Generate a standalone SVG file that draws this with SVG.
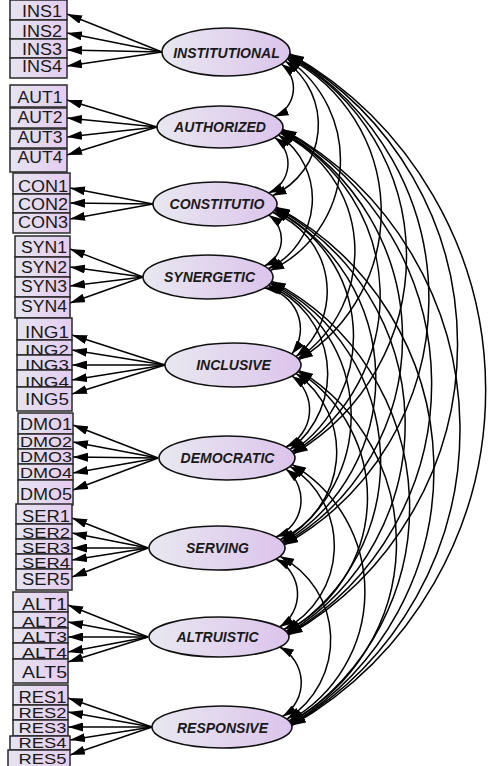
<svg xmlns="http://www.w3.org/2000/svg" width="490" height="766" viewBox="0 0 490 766">
<defs>
<linearGradient id="eg" x1="0" y1="0" x2="1" y2="0">
<stop offset="0" stop-color="#e8e8f0"/><stop offset="1" stop-color="#dcc4ec"/>
</linearGradient>
<linearGradient id="bg" x1="0" y1="0" x2="1" y2="0">
<stop offset="0" stop-color="#e6e4f0"/><stop offset="1" stop-color="#e4ccf0"/>
</linearGradient>
<marker id="ai" viewBox="0 0 15 9" refX="15" refY="4.5" markerWidth="15" markerHeight="9" markerUnits="userSpaceOnUse" orient="auto-start-reverse"><path d="M0,0 L15,4.5 L0,9 z" fill="#000"/></marker>
<marker id="ac" viewBox="0 0 14 9" refX="14" refY="4.5" markerWidth="14" markerHeight="9" markerUnits="userSpaceOnUse" orient="auto-start-reverse"><path d="M0,0 L14,4.5 L0,9 z" fill="#000"/></marker>
<style>
.lat ellipse{fill:url(#eg);stroke:#111;stroke-width:1.6}
.lat text{font-family:"Liberation Sans",Arial,sans-serif;font-size:14px;font-weight:bold;font-style:italic;fill:#1a1a1a;text-anchor:middle}
.obs rect{fill:url(#bg);stroke:#2a2a2a;stroke-width:1.5}
.obs text{font-family:"Liberation Sans",Arial,sans-serif;font-size:16px;fill:#1a1a1a;text-anchor:middle}
.obs text.t{font-size:14.5px}
.ind line{stroke:#000;stroke-width:1.4;marker-end:url(#ai)}
.cov path{fill:none;stroke:#000;stroke-width:1.5;marker-start:url(#ac);marker-end:url(#ac)}
</style>
</defs>
<g id="connectors">
<g class="ind">
<line x1="162" y1="52" x2="67" y2="14"/><line x1="162" y1="52" x2="67" y2="33"/><line x1="162" y1="52" x2="67" y2="50"/><line x1="162" y1="52" x2="67" y2="66"/>
<line x1="157" y1="127" x2="67" y2="100"/><line x1="157" y1="127" x2="67" y2="118"/><line x1="157" y1="127" x2="67" y2="137"/><line x1="157" y1="127" x2="67" y2="155"/>
<line x1="153" y1="204" x2="70" y2="188"/><line x1="153" y1="204" x2="70" y2="203"/><line x1="153" y1="204" x2="70" y2="219"/>
<line x1="143" y1="277" x2="70" y2="249"/><line x1="143" y1="277" x2="70" y2="267"/><line x1="143" y1="277" x2="70" y2="286"/><line x1="143" y1="277" x2="70" y2="303"/>
<line x1="165" y1="365" x2="72" y2="335"/><line x1="165" y1="365" x2="72" y2="350"/><line x1="165" y1="365" x2="72" y2="365"/><line x1="165" y1="365" x2="72" y2="380"/><line x1="165" y1="365" x2="72" y2="394"/>
<line x1="158" y1="458" x2="73" y2="425"/><line x1="158" y1="458" x2="73" y2="442"/><line x1="158" y1="458" x2="73" y2="457"/><line x1="158" y1="458" x2="73" y2="473"/><line x1="158" y1="458" x2="73" y2="490"/>
<line x1="148" y1="548" x2="72" y2="518"/><line x1="148" y1="548" x2="72" y2="533"/><line x1="148" y1="548" x2="72" y2="548"/><line x1="148" y1="548" x2="72" y2="560"/><line x1="148" y1="548" x2="72" y2="577"/>
<line x1="148" y1="637" x2="68" y2="605"/><line x1="148" y1="637" x2="68" y2="622"/><line x1="148" y1="637" x2="68" y2="637"/><line x1="148" y1="637" x2="68" y2="652"/><line x1="148" y1="637" x2="68" y2="662"/>
<line x1="152" y1="727" x2="68" y2="698"/><line x1="152" y1="727" x2="68" y2="712"/><line x1="152" y1="727" x2="68" y2="727"/><line x1="152" y1="727" x2="70" y2="740"/><line x1="152" y1="727" x2="70" y2="755"/>
</g>
<g class="cov">
<path d="M281.4,64 A30.5,30.5 0 0 1 274.6,116.5"/>
<path d="M285.3,61 A77.9,77.9 0 0 1 272.5,195.7"/>
<path d="M287.2,59 A122.3,122.3 0 0 1 270.2,270.6"/>
<path d="M288.1,57.8 A174,174 0 0 1 299,359.7"/>
<path d="M288.8,56.6 A228.8,228.8 0 0 1 293.8,453.8"/>
<path d="M289.4,55.3 A282,282 0 0 1 284.3,544.9"/>
<path d="M289.7,54.5 A334.3,334.3 0 0 1 288.7,634.9"/>
<path d="M289.9,53.7 A387,387 0 0 1 291.8,725.5"/>
<path d="M274.6,137.5 A32.1,32.1 0 0 1 268.7,193"/>
<path d="M278.4,134.9 A77.3,77.3 0 0 1 268.3,268.7"/>
<path d="M280.2,133.1 A130.3,130.3 0 0 1 298,358.6"/>
<path d="M281.1,132.1 A184.8,184.8 0 0 1 293,452.7"/>
<path d="M281.9,131 A237.8,237.8 0 0 1 283.8,543.8"/>
<path d="M282.4,129.9 A290.5,290.5 0 0 1 288.3,634.2"/>
<path d="M282.7,129.2 A343.1,343.1 0 0 1 291.7,724.8"/>
<path d="M268.7,215 A29.5,29.5 0 0 1 264.3,266"/>
<path d="M272.5,212.3 A84.3,84.3 0 0 1 296,356.7"/>
<path d="M274.3,210.4 A139.3,139.3 0 0 1 292,451.6"/>
<path d="M275.1,209.3 A192.1,192.1 0 0 1 283,542.7"/>
<path d="M275.9,208.2 A244.9,244.9 0 0 1 287.7,633.2"/>
<path d="M276.4,207.1 A297.9,297.9 0 0 1 291.3,724.1"/>
<path d="M264.3,288 A41.2,41.2 0 0 1 291.9,354"/>
<path d="M268.3,285.3 A95.5,95.5 0 0 1 290,449.7"/>
<path d="M270.2,283.4 A148.9,148.9 0 0 1 282,541.6"/>
<path d="M271.1,282.3 A201.8,201.8 0 0 1 286.9,632.2"/>
<path d="M271.8,281.2 A254.7,254.7 0 0 1 290.7,723"/>
<path d="M291.9,376 A41.1,41.1 0 0 1 285.9,447"/>
<path d="M296,373.3 A96.3,96.3 0 0 1 280,539.7"/>
<path d="M298,371.4 A149.8,149.8 0 0 1 285.9,631.2"/>
<path d="M299,370.3 A202.6,202.6 0 0 1 289.9,721.9"/>
<path d="M285.9,469 A39.6,39.6 0 0 1 275.9,537"/>
<path d="M290,466.3 A94.1,94.1 0 0 1 283.9,629.5"/>
<path d="M292,464.4 A147.7,147.7 0 0 1 288.9,720.9"/>
<path d="M275.9,559 A39.2,39.2 0 0 1 279.6,627"/>
<path d="M280,556.3 A93.9,93.9 0 0 1 286.9,719.1"/>
<path d="M279.6,647 A40.1,40.1 0 0 1 282.6,716.5"/>
</g>
</g>
<g id="latents" class="lat">
<g id="INSTITUTIONAL"><ellipse cx="226" cy="52" rx="64" ry="24"/><text x="226.5" y="58">INSTITUTIONAL</text></g>
<g id="AUTHORIZED"><ellipse cx="220" cy="127" rx="63" ry="21"/><text x="220" y="132">AUTHORIZED</text></g>
<g id="CONSTITUTIO"><ellipse cx="215" cy="204" rx="62" ry="22"/><text x="217" y="209">CONSTITUTIO</text></g>
<g id="SYNERGETIC"><ellipse cx="208" cy="277" rx="65" ry="22"/><text x="209.5" y="282">SYNERGETIC</text></g>
<g id="INCLUSIVE"><ellipse cx="233" cy="365" rx="68" ry="22"/><text x="233.5" y="370">INCLUSIVE</text></g>
<g id="DEMOCRATIC"><ellipse cx="227" cy="458" rx="68" ry="22"/><text x="227.5" y="463">DEMOCRATIC</text></g>
<g id="SERVING"><ellipse cx="217" cy="548" rx="68" ry="22"/><text x="217.5" y="553">SERVING</text></g>
<g id="ALTRUISTIC"><ellipse cx="219" cy="637" rx="70" ry="20"/><text x="217.5" y="642">ALTRUISTIC</text></g>
<g id="RESPONSIVE"><ellipse cx="222" cy="727" rx="70" ry="21"/><text x="222.5" y="733">RESPONSIVE</text></g>
</g>
<g id="indicators" class="obs">
<g id="INS1"><rect x="10" y="0" width="57" height="20"/><text x="42" y="17" textLength="40" lengthAdjust="spacingAndGlyphs">INS1</text></g>
<g id="INS2"><rect x="10" y="20" width="57" height="19"/><text x="42" y="37" textLength="40" lengthAdjust="spacingAndGlyphs">INS2</text></g>
<g id="INS3"><rect x="10" y="39" width="57" height="19"/><text x="42" y="55" textLength="40" lengthAdjust="spacingAndGlyphs">INS3</text></g>
<g id="INS4"><rect x="10" y="58" width="57" height="20"/><text x="42" y="72" textLength="40" lengthAdjust="spacingAndGlyphs">INS4</text></g>
<g id="AUT1"><rect x="10" y="85" width="57" height="22"/><text x="40" y="103" textLength="45" lengthAdjust="spacingAndGlyphs">AUT1</text></g>
<g id="AUT2"><rect x="10" y="108" width="57" height="20"/><text x="40" y="123" textLength="45" lengthAdjust="spacingAndGlyphs">AUT2</text></g>
<g id="AUT3"><rect x="10" y="129" width="57" height="19"/><text x="40" y="143" textLength="45" lengthAdjust="spacingAndGlyphs">AUT3</text></g>
<g id="AUT4"><rect x="10" y="149" width="57" height="23"/><text x="40" y="163" textLength="45" lengthAdjust="spacingAndGlyphs">AUT4</text></g>
<g id="CON1"><rect x="13" y="173" width="57" height="21"/><text x="43" y="192" textLength="50" lengthAdjust="spacingAndGlyphs">CON1</text></g>
<g id="CON2"><rect x="13" y="194" width="57" height="19"/><text x="43" y="210" textLength="50" lengthAdjust="spacingAndGlyphs">CON2</text></g>
<g id="CON3"><rect x="13" y="213" width="57" height="20"/><text x="43" y="228" textLength="50" lengthAdjust="spacingAndGlyphs">CON3</text></g>
<g id="SYN1"><rect x="15" y="236" width="55" height="21"/><text x="44" y="253" textLength="46" lengthAdjust="spacingAndGlyphs">SYN1</text></g>
<g id="SYN2"><rect x="15" y="257" width="55" height="20"/><text x="44" y="273" textLength="46" lengthAdjust="spacingAndGlyphs">SYN2</text></g>
<g id="SYN3"><rect x="15" y="277" width="55" height="20"/><text x="44" y="292" textLength="46" lengthAdjust="spacingAndGlyphs">SYN3</text></g>
<g id="SYN4"><rect x="15" y="297" width="55" height="21"/><text x="44" y="312" textLength="46" lengthAdjust="spacingAndGlyphs">SYN4</text></g>
<g id="ING1"><rect x="17" y="318" width="55" height="22"/><text x="47" y="338" textLength="44" lengthAdjust="spacingAndGlyphs">ING1</text></g>
<g id="ING2"><rect x="17" y="340" width="55" height="15"/><text class="t" x="47" y="355" textLength="44" lengthAdjust="spacingAndGlyphs">ING2</text></g>
<g id="ING3"><rect x="17" y="355" width="55" height="15"/><text class="t" x="47" y="370" textLength="44" lengthAdjust="spacingAndGlyphs">ING3</text></g>
<g id="ING4"><rect x="17" y="370" width="55" height="17"/><text class="t" x="47" y="387" textLength="44" lengthAdjust="spacingAndGlyphs">ING4</text></g>
<g id="ING5"><rect x="17" y="387" width="55" height="24"/><text x="47" y="405" textLength="44" lengthAdjust="spacingAndGlyphs">ING5</text></g>
<g id="DMO1"><rect x="18" y="413" width="55" height="21"/><text x="46" y="430" textLength="52" lengthAdjust="spacingAndGlyphs">DMO1</text></g>
<g id="DMO2"><rect x="18" y="434" width="55" height="15"/><text class="t" x="46" y="447" textLength="52" lengthAdjust="spacingAndGlyphs">DMO2</text></g>
<g id="DMO3"><rect x="18" y="449" width="55" height="15"/><text class="t" x="46" y="462" textLength="52" lengthAdjust="spacingAndGlyphs">DMO3</text></g>
<g id="DMO4"><rect x="18" y="464" width="55" height="16"/><text class="t" x="46" y="478" textLength="52" lengthAdjust="spacingAndGlyphs">DMO4</text></g>
<g id="DMO5"><rect x="18" y="480" width="55" height="25"/><text x="46" y="500" textLength="52" lengthAdjust="spacingAndGlyphs">DMO5</text></g>
<g id="SER1"><rect x="16" y="504" width="56" height="20"/><text x="46" y="522" textLength="48" lengthAdjust="spacingAndGlyphs">SER1</text></g>
<g id="SER2"><rect x="16" y="524" width="56" height="15"/><text class="t" x="46" y="538" textLength="48" lengthAdjust="spacingAndGlyphs">SER2</text></g>
<g id="SER3"><rect x="16" y="539" width="56" height="15"/><text class="t" x="46" y="553" textLength="48" lengthAdjust="spacingAndGlyphs">SER3</text></g>
<g id="SER4"><rect x="16" y="554" width="56" height="15"/><text class="t" x="46" y="568" textLength="48" lengthAdjust="spacingAndGlyphs">SER4</text></g>
<g id="SER5"><rect x="16" y="569" width="56" height="21"/><text x="46" y="585" textLength="48" lengthAdjust="spacingAndGlyphs">SER5</text></g>
<g id="ALT1"><rect x="13" y="592" width="55" height="20"/><text x="44.5" y="610" textLength="45" lengthAdjust="spacingAndGlyphs">ALT1</text></g>
<g id="ALT2"><rect x="13" y="612" width="55" height="16"/><text class="t" x="44.5" y="627" textLength="45" lengthAdjust="spacingAndGlyphs">ALT2</text></g>
<g id="ALT3"><rect x="13" y="628" width="55" height="15"/><text class="t" x="44.5" y="642" textLength="45" lengthAdjust="spacingAndGlyphs">ALT3</text></g>
<g id="ALT4"><rect x="13" y="643" width="55" height="16"/><text class="t" x="44.5" y="658" textLength="45" lengthAdjust="spacingAndGlyphs">ALT4</text></g>
<g id="ALT5"><rect x="13" y="659" width="55" height="24"/><text x="44.5" y="678" textLength="45" lengthAdjust="spacingAndGlyphs">ALT5</text></g>
<g id="RES1"><rect x="13" y="685" width="55" height="20"/><text x="42.5" y="703" textLength="48" lengthAdjust="spacingAndGlyphs">RES1</text></g>
<g id="RES2"><rect x="13" y="705" width="55" height="15"/><text class="t" x="42.5" y="718" textLength="48" lengthAdjust="spacingAndGlyphs">RES2</text></g>
<g id="RES3"><rect x="13" y="720" width="55" height="16"/><text class="t" x="42.5" y="733" textLength="48" lengthAdjust="spacingAndGlyphs">RES3</text></g>
<g id="RES4"><rect x="10" y="736" width="60" height="14"/><text class="t" x="42.5" y="748" textLength="48" lengthAdjust="spacingAndGlyphs">RES4</text></g>
<g id="RES5"><rect x="8" y="750" width="62" height="18"/><text class="t" x="42.5" y="764" textLength="48" lengthAdjust="spacingAndGlyphs">RES5</text></g>
</g>
</svg>
